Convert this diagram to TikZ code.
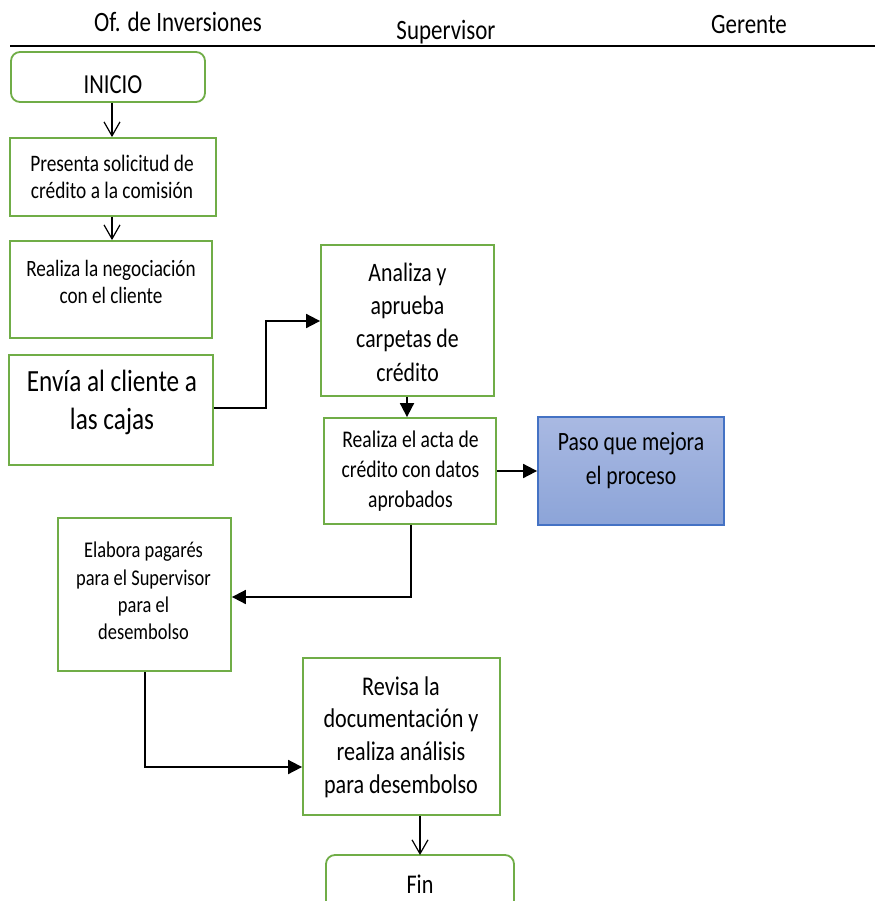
\documentclass[tikz,border=0pt]{standalone}
\usepackage{fontspec}
\usetikzlibrary{arrows.meta}
\newfontfamily\boxfont[FakeStretch=0.82]{Carlito}
\definecolor{stepgreen}{HTML}{70AD47}
\definecolor{stepblue}{HTML}{4472C4}
\definecolor{bluetop}{HTML}{A9B9E2}
\definecolor{bluebot}{HTML}{8CA4D8}
\newcommand{\fs}[2]{\boxfont\fontsize{#1}{#2}\selectfont}
\begin{document}
\begin{tikzpicture}[x=1pt,y=-1pt,
  stepbox/.style={draw=stepgreen,line width=1.8pt,fill=white,inner sep=0pt},
  endbox/.style={stepbox,rounded corners=9pt},
  txt/.style={align=center,inner sep=0pt,text=black},
  flow/.style={line width=1.8pt,-{Triangle[length=14pt,width=14pt]}},
  thin flow/.style={line width=1.2pt,-{Straight Barb[length=14pt,width=16pt,line width=1.2pt]}},
  lane/.style={txt,font=\fs{28}{32}}
]
\useasboundingbox (0,0) rectangle (875,901);

% lane headers
\node[lane] (h1) at (178,22) {Of. de Inversiones};
\node[lane] (h2) at (446,32) {Supervisor};
\node[lane] (h3) at (749,25) {Gerente};
\draw[line width=1.8pt] (10,46) -- (875,46);

% boxes
\node[endbox,minimum width=194pt,minimum height=50pt] (inicio) at (108,77) {};
\node[txt,font=\fs{27.5}{32}] at (113,85) {INICIO};

\node[stepbox,minimum width=206pt,minimum height=78pt] (b1) at (113,177) {};
\node[txt,font=\fs{23.6}{27}] at (112,177) {Presenta solicitud de\\crédito a la comisión};

\node[stepbox,minimum width=202pt,minimum height=97pt] (b2) at (111,289.5) {};
\node[txt,font=\fs{23.4}{27}] at (111,281.5) {Realiza la negociación\\con el cliente};

\node[stepbox,minimum width=204pt,minimum height=110pt] (b3) at (111,410) {};
\node[txt,font=\fs{30.8}{38}] at (112,402) {Envía al cliente a\\las cajas};

\node[stepbox,minimum width=173pt,minimum height=151pt] (b4) at (407.5,320.5) {};
\node[txt,font=\fs{26.6}{33.3}] at (407.5,322) {Analiza y\\aprueba\\carpetas de\\crédito};

\node[stepbox,minimum width=172pt,minimum height=106pt] (b5) at (410,471) {};
\node[txt,font=\fs{23.9}{30}] at (410.5,471) {Realiza el acta de\\crédito con datos\\aprobados};

\node[draw=stepblue,line width=1.8pt,top color=bluetop,bottom color=bluebot,
      minimum width=186pt,minimum height=108pt,inner sep=0pt] (b6) at (631,471) {};
\node[txt,font=\fs{26.4}{34}] at (631,461) {Paso que mejora\\el proceso};

\node[stepbox,minimum width=173pt,minimum height=153pt] (b7) at (144.5,594.5) {};
\node[txt,font=\fs{22.5}{27.3}] at (143.5,591) {Elabora pagarés\\para el Supervisor\\para el\\desembolso};

\node[stepbox,minimum width=197pt,minimum height=157pt] (b8) at (401.5,736.5) {};
\node[txt,font=\fs{27}{32.7}] at (401,737) {Revisa la\\documentación y\\realiza análisis\\para desembolso};

% end terminal: its lower part runs off the page
\draw[draw=stepgreen,line width=1.8pt,rounded corners=9pt]
  (326,930) -- (326,855) -- (514,855) -- (514,930);
\coordinate (fintop) at (420,855);
\node[txt,font=\fs{27}{32},anchor=base] (fin) at (420,893) {Fin};

% connectors
\draw[thin flow] (inicio.south -| 112,0) -- (b1.north -| 112,0);
\draw[thin flow] (b1.south -| 112,0) -- (b2.north -| 112,0);
\draw[flow] (b3.east |- 0,408) -- (266,408) -- (266,321) -- (b4.west |- 0,321);
\draw[flow] (b4.south -| 407,0) -- (b5.north -| 407,0);
\draw[flow] (b5.east) -- (b6.west |- b5.east);
\draw[flow] (b5.south -| 411,0) -- (411,597) -- (b7.east |- 0,597);
\draw[flow] (b7.south -| 145,0) -- (145,767) -- (b8.west |- 0,767);
\draw[thin flow] (b8.south -| 420,0) -- (fintop);
\end{tikzpicture}
\end{document}
